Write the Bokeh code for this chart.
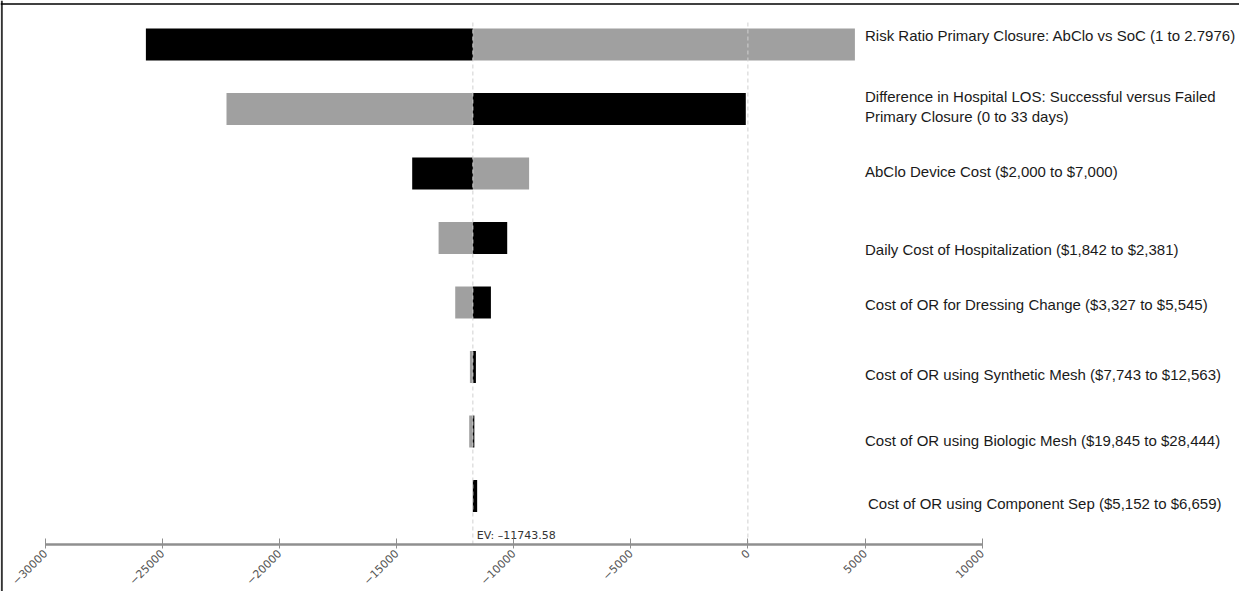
import math
from bokeh.plotting import figure
from bokeh.models import Range1d, LinearAxis, FixedTicker, Span, ColumnDataSource
from bokeh.core.properties import value
from bokeh.embed import file_html
from bokeh.resources import INLINE

# ---------------- data ----------------
categories = [
    "Risk Ratio Primary Closure: AbClo vs SoC (1 to 2.7976)",
    "Difference in Hospital LOS: Successful versus Failed\nPrimary Closure (0 to 33 days)",
    "AbClo Device Cost ($2,000 to $7,000)",
    "Daily Cost of Hospitalization ($1,842 to $2,381)",
    "Cost of OR for Dressing Change ($3,327 to $5,545)",
    "Cost of OR using Synthetic Mesh ($7,743 to $12,563)",
    "Cost of OR using Biologic Mesh ($19,845 to $28,444)",
    "Cost of OR using Component Sep ($5,152 to $6,659)",
]
ev = -11743.58
black_values = [-25705, -90, -14334, -10277, -10973, -11614, -11680, -11560]
gray_values = [4569, -22263, -9342, -13207, -12497, -11870, -11900, -11750]
tick_values = [-30000, -25000, -20000, -15000, -10000, -5000, 0, 5000, 10000]

# ---------------- layout constants ----------------
W, H = 1239, 591
PX_PER_UNIT_X = 117.1 / 5000.0
ZERO_PX = 755.4 - 8          # x pixel of value 0 inside the canvas
ROW_PX = 64.5                # vertical spacing of rows
LAST_ROW_PX = 503.5 - 8      # y pixel of bottom row centre inside canvas

x_start = (0 - ZERO_PX) / PX_PER_UNIT_X
x_end = (W - ZERO_PX) / PX_PER_UNIT_X
y_end = LAST_ROW_PX / ROW_PX
y_start = -(H - LAST_ROW_PX) / ROW_PX

def ypx(py):  # canvas pixel -> y value
    return (LAST_ROW_PX - py) / ROW_PX

def xpx(px):
    return (px - ZERO_PX) / PX_PER_UNIT_X

n = len(categories)
ypos = [n - 1 - i for i in range(n)]
axis_y = ypx(552 - 8)
top_y = ypx(30 - 8)
label_offsets = [-9, -2.5, -2, 11, 2, 7, 9, 7]
label_x_offsets = [0, 0, 0, 0, 0, 0, 0, 3]

p = figure(width=W, height=H, output_backend="svg", toolbar_location=None,
           x_range=Range1d(x_start, x_end), y_range=Range1d(y_start, y_end),
           x_axis_location=None, y_axis_location=None,
           min_border_left=0, min_border_right=0, min_border_top=0, min_border_bottom=0,
           outline_line_color=None, background_fill_color="white", border_fill_color="white")
p.xgrid.grid_line_color = None
p.ygrid.grid_line_color = None

src = ColumnDataSource(dict(y=ypos, black=black_values, gray=gray_values,
                            label=categories, off=label_offsets, xoff=label_x_offsets))

p.hbar(y="y", left=ev, right="gray", height=0.496, source=src,
       fill_color="#a0a0a0", line_color=None)
p.hbar(y="y", left=ev, right="black", height=0.496, source=src,
       fill_color="#000000", line_color=None)

# dashed reference lines at EV and 0
p.segment(x0=[ev, 0], y0=[axis_y, axis_y], x1=[ev, 0], y1=[top_y, top_y],
          line_color="#d0d0d0", line_width=1, line_dash="4 3")

# category labels
p.text(x=5000, y="y", text="label", y_offset="off", x_offset="xoff", source=src,
       text_font=value("Liberation Sans"), text_font_size="15px",
       text_color="#1a1a1a", text_baseline="middle", text_align="left",
       text_line_height=1.15)

# EV label
p.text(x=[ev], y=[axis_y], text=[f"EV: \u2013{abs(ev):.2f}"], x_offset=4, y_offset=-9,
       text_font=value("DejaVu Sans"), text_font_size="11px", text_color="#333333",
       text_baseline="alphabetic", text_align="left")

# axis
ax = LinearAxis(fixed_location=axis_y, ticker=FixedTicker(ticks=tick_values),
                bounds=(tick_values[0], tick_values[-1]))
ax.axis_line_color = "#8f8f8f"
ax.axis_line_width = 2.5
ax.major_tick_line_color = "#8f8f8f"
ax.major_tick_in = 6
ax.major_tick_out = 4
ax.minor_tick_line_color = None
ax.major_label_orientation = math.pi / 4
ax.major_label_standoff = 3
ax.major_label_text_font = "DejaVu Sans"
ax.major_label_text_font_size = "11px"
ax.major_label_text_color = "#555555"
p.add_layout(ax, "below")

# frame lines at top and left
p.add_layout(Span(location=xpx(9.3 - 8), dimension="height", line_color="#333333", line_width=2))
p.add_layout(Span(location=ypx(11.6 - 8), dimension="width", line_color="#000000", line_width=1.5))

open("out.html", "w").write(file_html(p, INLINE))
